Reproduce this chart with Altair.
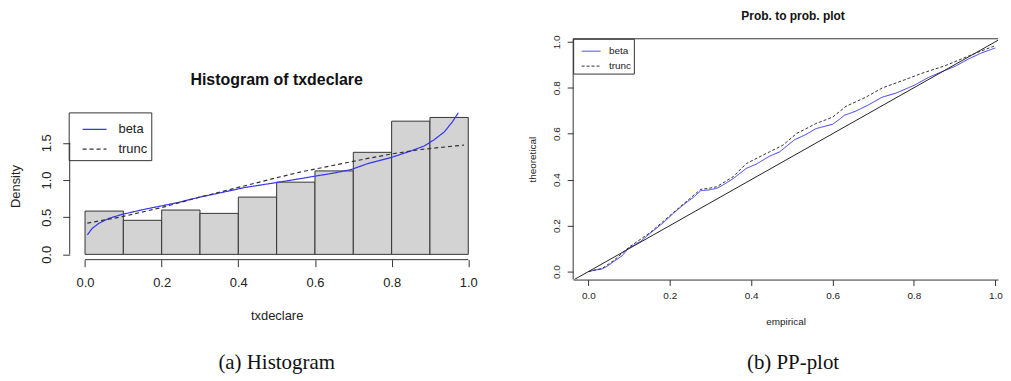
import altair as alt
import pandas as pd

SANS = "Liberation Sans"
SERIF = "Liberation Serif"
BLUE = "#3535f0"
DARK = "#333333"

# ---------------- (a) Histogram data ----------------
bin_start = [0.0, 0.1, 0.2, 0.3, 0.4, 0.5, 0.6, 0.7, 0.8, 0.9]
bin_end = [0.1, 0.2, 0.3, 0.4, 0.5, 0.6, 0.7, 0.8, 0.9, 1.0]
density = [0.582, 0.458, 0.596, 0.551, 0.770, 0.971, 1.122, 1.372, 1.791, 1.841]

beta_x = [0.006, 0.019, 0.036, 0.062, 0.097, 0.158, 0.201, 0.244, 0.296, 0.357,
          0.417, 0.500, 0.564, 0.651, 0.694, 0.738, 0.798, 0.850, 0.885, 0.911,
          0.937, 0.958, 0.974]
beta_y = [0.261, 0.351, 0.417, 0.484, 0.538, 0.609, 0.653, 0.699, 0.766, 0.832,
          0.899, 0.966, 1.020, 1.095, 1.140, 1.221, 1.301, 1.390, 1.457, 1.542,
          1.644, 1.778, 1.904]

trunc_x = [0.006, 0.1, 0.2, 0.3, 0.4, 0.5, 0.564, 0.651, 0.738, 0.8, 0.876, 0.989]
trunc_y = [0.420, 0.510, 0.630, 0.770, 0.900, 1.030, 1.110, 1.200, 1.290, 1.350, 1.410, 1.470]

hist_xticks = [0.0, 0.2, 0.4, 0.6, 0.8, 1.0]
hist_yticks = [0.0, 0.5, 1.0, 1.5]

# ---------------- (b) PP-plot data ----------------
pp_beta_emp = [0, 0.014, 0.034, 0.046, 0.063, 0.083, 0.099, 0.128, 0.152, 0.185,
               0.209, 0.238, 0.258, 0.276, 0.295, 0.315, 0.331, 0.356, 0.388, 0.413,
               0.445, 0.470, 0.490, 0.507, 0.535, 0.559, 0.600, 0.615, 0.629, 0.657,
               0.690, 0.722, 0.755, 0.800, 0.836, 0.869, 0.901, 0.934, 0.967, 1.0]
pp_beta_theo = [0, 0.006, 0.012, 0.023, 0.045, 0.069, 0.102, 0.131, 0.167, 0.214,
                0.254, 0.297, 0.323, 0.352, 0.355, 0.362, 0.377, 0.405, 0.449, 0.468,
                0.502, 0.521, 0.550, 0.574, 0.597, 0.622, 0.641, 0.660, 0.680, 0.698,
                0.727, 0.759, 0.776, 0.810, 0.845, 0.870, 0.893, 0.925, 0.952, 0.973]
pp_trunc_emp = [0, 0.034, 0.063, 0.099, 0.152, 0.209, 0.276, 0.295, 0.315, 0.356,
                0.388, 0.445, 0.478, 0.511, 0.559, 0.600, 0.633, 0.682, 0.722, 0.772,
                0.820, 0.877, 0.926, 0.967, 1.0]
pp_trunc_theo = [0, 0.014, 0.049, 0.105, 0.170, 0.257, 0.358, 0.362, 0.369, 0.413,
                 0.470, 0.521, 0.550, 0.600, 0.644, 0.672, 0.719, 0.759, 0.799, 0.831,
                 0.863, 0.896, 0.932, 0.961, 0.983]
diag = [-0.0346, 1.013]
pp_ticks = [0.0, 0.2, 0.4, 0.6, 0.8, 1.0]

series_names = ["beta", "trunc"]

# ---------------- left panel ----------------
WL, HL = 416, 252
xl = alt.Scale(domain=[-0.04, 1.04], nice=False, zero=False)
yl = alt.Scale(domain=[-0.071, 3.3], nice=False, zero=False)

hist_df = pd.DataFrame({"start": bin_start, "end": bin_end, "density": density})
curves_df = pd.DataFrame({
    "x": beta_x + trunc_x,
    "y": beta_y + trunc_y,
    "series": ["beta"] * len(beta_x) + ["trunc"] * len(trunc_x),
})

xaxis_l = alt.Axis(values=hist_xticks, format=".1f", title="txdeclare", domain=False,
                   grid=False, tickSize=7, tickColor=DARK, labelFontSize=13,
                   labelFont=SANS, labelColor="#222", labelPadding=10,
                   titleFontSize=13, titleFont=SANS, titleFontWeight="normal",
                   titleColor="#222", titleY=56, titleBaseline="middle")
yaxis_l = alt.Axis(values=hist_yticks, format=".1f", title="Density", domain=False,
                   grid=False, tickSize=7, tickColor=DARK, labelFontSize=13,
                   labelFont=SANS, labelColor="#222", labelPadding=9, labelAngle=270,
                   labelAlign="center", labelBaseline="bottom",
                   titleFontSize=13, titleFont=SANS, titleFontWeight="normal",
                   titleColor="#222", titleAngle=270, titleX=-54, titleY=178,
                   titleBaseline="middle")

XL = lambda f: alt.X(f, scale=xl, axis=xaxis_l)
YL = lambda f: alt.Y(f, scale=yl, axis=yaxis_l)

bars = alt.Chart(hist_df).mark_rect(fill="#d3d3d3", stroke=DARK, strokeWidth=1).encode(
    x=XL("start:Q"),
    x2="end:Q",
    y=YL("density:Q"),
    y2=alt.datum(0),
)

legend_l = alt.Legend(title=None, orient="none", legendX=-1, legendY=104,
                      symbolType="stroke", symbolSize=576, symbolStrokeWidth=1.2,
                      labelFont=SANS, labelFontSize=13, labelColor="#222",
                      padding=4, rowPadding=-9, labelOffset=11, symbolOffset=9,
                      strokeColor=DARK)

curves_l = alt.Chart(curves_df).mark_line(strokeWidth=1.2).encode(
    x=XL("x:Q"),
    y=YL("y:Q"),
    color=alt.Color("series:N", scale=alt.Scale(domain=series_names, range=[BLUE, DARK]),
                    legend=legend_l),
    strokeDash=alt.StrokeDash("series:N",
                              scale=alt.Scale(domain=series_names, range=[[1, 0], [4, 3]]),
                              legend=legend_l),
    order="x:Q",
)

one = pd.DataFrame({"k": [0]})
yline_l = alt.Chart(one).mark_rule(color=DARK, strokeWidth=1).encode(
    x=alt.value(0), y=alt.datum(hist_yticks[0]), y2=alt.datum(hist_yticks[-1]))
xline_l = alt.Chart(one).mark_rule(color=DARK, strokeWidth=1).encode(
    y=alt.value(HL), x=alt.datum(hist_xticks[0]), x2=alt.datum(hist_xticks[-1]))

title_l = alt.Chart(pd.DataFrame({"t": ["Histogram of txdeclare"]})).mark_text(
    font=SANS, fontSize=16, fontWeight="bold", color="#111", baseline="middle",
    align="center").encode(text="t:N", x=alt.value(WL / 2), y=alt.value(71))
caption_l = alt.Chart(pd.DataFrame({"t": ["(a) Histogram"]})).mark_text(
    font=SERIF, fontSize=21, color="#111", baseline="middle", align="center").encode(
    text="t:N", x=alt.value(WL / 2), y=alt.value(356))

left = alt.layer(bars, curves_l, yline_l, xline_l, title_l, caption_l).properties(
    width=WL, height=HL)

# ---------------- right panel ----------------
WR, HR = 427, 272
xr = alt.Scale(domain=[-0.0374, 1.0066], nice=False, zero=False)
yr = alt.Scale(domain=[-0.0346, 1.1429], nice=False, zero=False)

pp_df = pd.DataFrame({
    "emp": pp_beta_emp + pp_trunc_emp,
    "theo": pp_beta_theo + pp_trunc_theo,
    "curve": ["beta"] * len(pp_beta_emp) + ["trunc"] * len(pp_trunc_emp),
})

xaxis_r = alt.Axis(values=pp_ticks, format=".1f", title="empirical", domain=True,
                   domainColor=DARK, grid=False, tickSize=6, tickColor=DARK,
                   labelFontSize=10, labelFont=SANS, labelColor="#222", labelPadding=5,
                   titleFontSize=10, titleFont=SANS, titleFontWeight="normal",
                   titleColor="#222", titleY=42, titleBaseline="middle")
yaxis_r = alt.Axis(values=pp_ticks, format=".1f", title="theoretical", domain=False,
                   grid=False, tickSize=6, tickColor=DARK, labelFontSize=10,
                   labelFont=SANS, labelColor="#222", labelPadding=6, labelAngle=270,
                   labelAlign="center", labelBaseline="bottom",
                   titleFontSize=10, titleFont=SANS, titleFontWeight="normal",
                   titleColor="#222", titleAngle=270, titleX=-40.7, titleY=151,
                   titleBaseline="middle")

XR = lambda f: alt.X(f, scale=xr, axis=xaxis_r)
YR = lambda f: alt.Y(f, scale=yr, axis=yaxis_r)

legend_r = alt.Legend(title=None, orient="none", legendX=0, legendY=30,
                      symbolType="stroke", symbolSize=361, symbolStrokeWidth=1,
                      labelFont=SANS, labelFontSize=10, labelColor="#222",
                      padding=2.5, rowPadding=-7, labelOffset=8, symbolOffset=5.5,
                      strokeColor=DARK)

pp_lines = alt.Chart(pp_df).mark_line(strokeWidth=1).encode(
    x=XR("emp:Q"),
    y=YR("theo:Q"),
    color=alt.Color("curve:N", scale=alt.Scale(domain=series_names, range=[BLUE, DARK]),
                    legend=legend_r),
    strokeDash=alt.StrokeDash("curve:N",
                              scale=alt.Scale(domain=series_names, range=[[1, 0], [3, 2]]),
                              legend=legend_r),
    order="emp:Q",
)

diag_df = pd.DataFrame({"a": diag, "b": diag})
diag_line = alt.Chart(diag_df).mark_line(color="#222", strokeWidth=1, clip=True).encode(
    x=XR("a:Q"), y=YR("b:Q"))

box_top = alt.Chart(one).mark_rule(color=DARK, strokeWidth=1).encode(
    x=alt.value(0), x2=alt.value(WR), y=alt.datum(diag[1]))
box_left = alt.Chart(one).mark_rule(color=DARK, strokeWidth=1).encode(
    x=alt.value(0), y=alt.datum(diag[0]), y2=alt.datum(diag[1]))

title_r = alt.Chart(pd.DataFrame({"t": ["Prob. to prob. plot"]})).mark_text(
    font=SANS, fontSize=12, fontWeight="bold", color="#111", baseline="middle",
    align="center").encode(text="t:N", x=alt.value(221), y=alt.value(7))
caption_r = alt.Chart(pd.DataFrame({"t": ["(b) PP-plot"]})).mark_text(
    font=SERIF, fontSize=21, color="#111", baseline="middle", align="center").encode(
    text="t:N", x=alt.value(221), y=alt.value(356))

right = alt.layer(pp_lines, diag_line, box_top, box_left, title_r, caption_r).properties(
    width=WR, height=HR)

chart = alt.hconcat(left, right, spacing=44).resolve_scale(
    color="independent", strokeDash="independent").resolve_legend(
    color="independent", strokeDash="independent").properties(
    padding={"left": 2, "top": 0, "right": 0, "bottom": 0},
    background="white").configure_view(strokeWidth=0)

chart.save("out.html", embed_options={"renderer": "svg", "actions": False})
